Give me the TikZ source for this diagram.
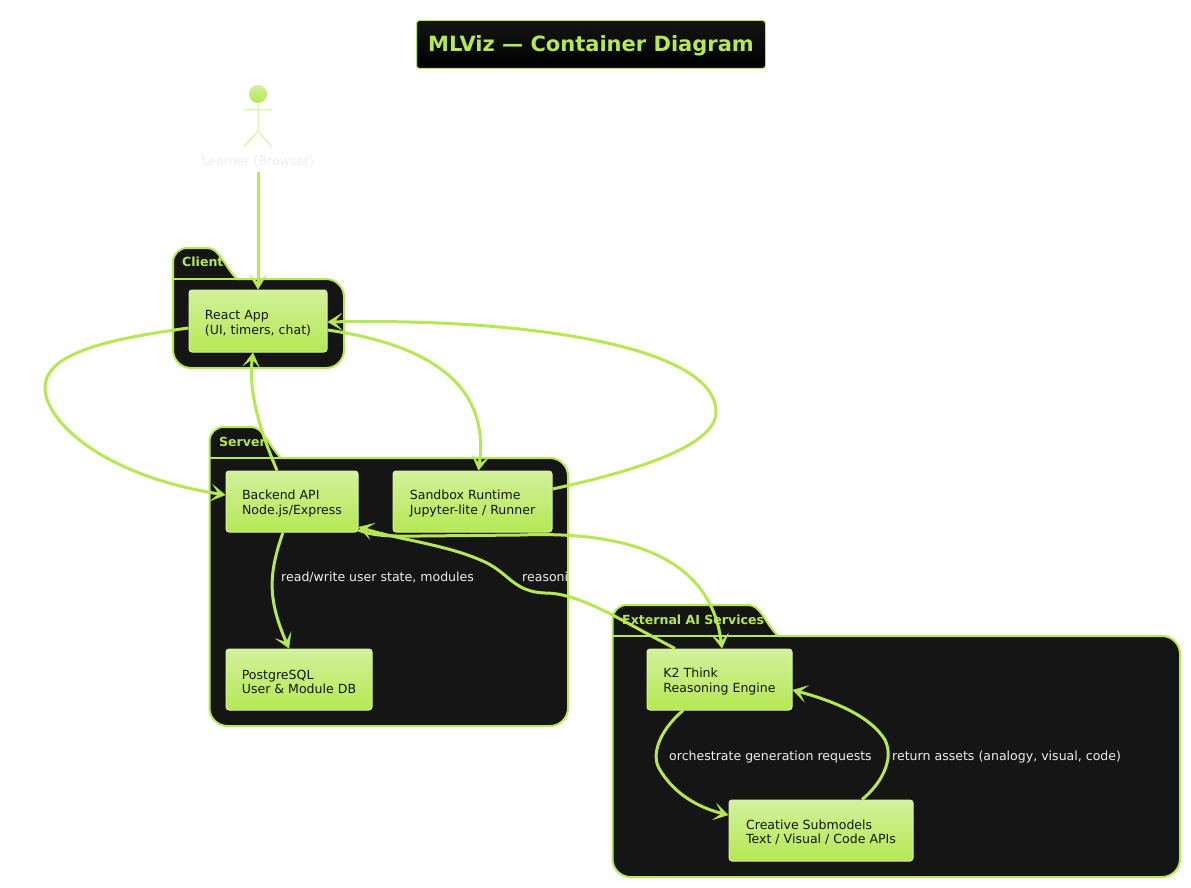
\documentclass[tikz,border=0pt]{standalone}
\usepackage{fontspec}
\setmainfont{DejaVu Sans}
\usetikzlibrary{arrows.meta,calc}
\definecolor{lime}{HTML}{B5E853}
\definecolor{limetop}{HTML}{D3F19C}
\definecolor{limeedge}{HTML}{D6F3A4}
\definecolor{ink}{HTML}{151515}
\definecolor{pale}{HTML}{EEEEEE}
\newcommand{\folderbox}[6]{%
  % left, right, top, line, bottom, tab right
  \draw[folderline] (#1,#4) -- (#1,#3+14) arc[start angle=180,end angle=90,radius=14pt]
    -- (#6-30,#3) .. controls (#6-17,#3) and (#6-14,#4-14) .. (#6,#4)
    -- (#2-18,#4) arc[start angle=90,end angle=0,radius=18pt]
    -- (#2,#5-18) arc[start angle=0,end angle=-90,radius=18pt]
    -- (#1+18,#5) arc[start angle=-90,end angle=-180,radius=18pt] -- cycle;
  \draw[folderline,fill=none] (#1,#4) -- (#6,#4);
}
\newcommand{\lift}{\rule{0pt}{13.5pt}}
\tikzset{
  x=1pt,y=-1pt,
  folderline/.style={draw=lime,line width=2pt,fill=ink},
  foldertitle/.style={anchor=west,inner sep=0pt,font=\fontsize{12.55}{15}\selectfont\bfseries,text=lime},
  box/.style={rectangle,rounded corners=3pt,top color=limetop,bottom color=lime,draw=limeedge,line width=1pt,
    align=left,anchor=center,inner sep=0pt,text=ink,font=\fontsize{12.55}{14.2}\selectfont},
  link/.style={draw=lime,line width=3pt,-{Stealth[length=15pt,width=18pt,inset=8pt,line width=0.5pt]}},
  linklabel/.style={anchor=west,inner sep=0pt,text=pale,font=\fontsize{12.55}{15}\selectfont},
  stick/.style={draw=limetop,line width=1pt},
}
\begin{document}
\begin{tikzpicture}
\useasboundingbox (0,0) rectangle (1191,888);
\fill[white] (0,0) rectangle (1191,888);

% title
\node[rectangle,rounded corners=3pt,top color=ink,bottom color=black,draw=lime,line width=1pt,
  minimum width=349pt,minimum height=48pt,inner sep=0pt,text=lime,text height=13.5pt,text depth=0pt,
  font=\fontsize{21}{24}\selectfont\bfseries] (title) at (591,44.5) {MLViz — Container Diagram};

% folders
\folderbox{173}{344}{248}{279}{368}{237}
\folderbox{209.5}{568}{427}{458}{726}{281}
\folderbox{612.5}{1180}{605}{636}{877}{778}
\node[foldertitle] (clientT) at (182,262) {Client};
\node[foldertitle] (serverT) at (219,442) {Server};
\node[foldertitle] (extT) at (622,620) {External AI Services};

% actor
\shade[top color=limetop,bottom color=lime] (258,94) circle[radius=9pt];
\draw[stick] (258,103) -- (258,131) (244,110) -- (272,110) (244,147) -- (258,131) -- (272,147);
\node[anchor=center,inner sep=0pt,minimum height=22pt,text=pale,font=\fontsize{12.55}{15}\selectfont] (learner) at (258,162) {Learner (Browser)};

% containers
\node[box,minimum width=138pt,minimum height=62pt] (react) at (258,321) {\lift React App\\(UI, timers, chat)};
\node[box,minimum width=132pt,minimum height=61pt] (backend) at (292,501.5) {\lift Backend API\\Node.js/Express};
\node[box,minimum width=159pt,minimum height=61pt] (sandbox) at (472.5,501.5) {\lift Sandbox Runtime\\Jupyter-lite / Runner};
\node[box,minimum width=146pt,minimum height=61pt] (pg) at (299,679.5) {\lift PostgreSQL\\User \& Module DB};
\node[box,minimum width=145pt,minimum height=61pt] (k2) at (719.5,679.5) {\lift K2 Think\\Reasoning Engine};
\node[box,minimum width=184pt,minimum height=61pt] (creative) at (821,830.5) {\lift Creative Submodels\\Text / Visual / Code APIs};

% connectors
\draw[link] ([yshift=1pt]learner.south) -- (react.north);
\draw[link] ([yshift=-7pt]react.west) .. controls (100,340) and (45,355) .. (45,388)
  .. controls (45,420) and (100,475) .. ([yshift=6.5pt]backend.west);
\draw[link] ([xshift=-15pt]backend.north) .. controls (262,435) and (248,395) .. ([xshift=-5pt]react.south);
\draw[link] ([yshift=-9pt]react.east) .. controls (430,345) and (490,385) .. ([xshift=6pt]sandbox.north);
\draw[link] ([yshift=12.5pt]sandbox.east) .. controls (640,470) and (716,445) .. (716,412)
  .. controls (716,345) and (520,318) .. ([yshift=-1pt]react.east);
\draw[link] ([yshift=-28.5pt]backend.east) .. controls (375,537) and (395,536) .. (420,536)
  -- (520,535) .. controls (650,530) and (712,570) .. ([xshift=2.5pt]k2.north);
\draw[link] ([xshift=-44.5pt]k2.north) .. controls (620,620) and (580,593) .. (545,593)
  .. controls (515,592) and (510,575) .. (487,563)
  .. controls (450,545) and (400,540) .. ([yshift=-25.5pt]backend.east);
\draw[link] ([xshift=-9pt]backend.south) .. controls (268,575) and (268,600) .. ([xshift=-10pt]pg.north);
\draw[link] ([xshift=-36.5pt]k2.south) .. controls (660,730) and (650,755) .. (660,770)
  .. controls (675,795) and (700,808) .. ([yshift=15.5pt]creative.west);
\draw[link] ([xshift=41pt]creative.north) .. controls (880,785) and (895,760) .. (885,740)
  .. controls (870,715) and (830,700) .. ([yshift=-10.5pt]k2.east);

% connector labels
\node[linklabel] (l1) at (281,577) {read/write user state, modules};
\node[linklabel] (l2) at (522,577) {reasoni};
\node[linklabel] (l3) at (669,757) {orchestrate generation requests};
\node[linklabel] (l4) at (892,757) {return assets (analogy, visual, code)};
\end{tikzpicture}
\end{document}
